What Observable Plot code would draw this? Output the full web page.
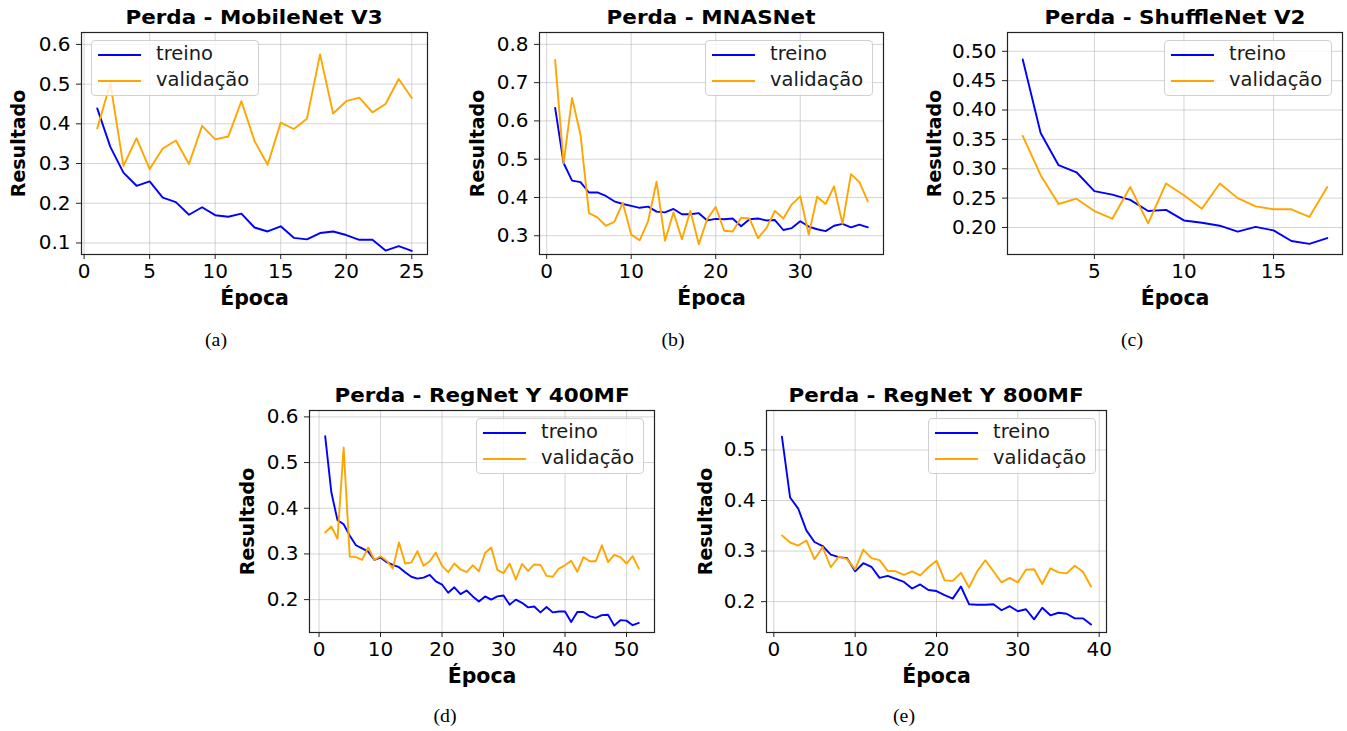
<!DOCTYPE html>
<html>
<head>
<meta charset="utf-8">
<script src="https://cdn.jsdelivr.net/npm/d3@7"></script>
<script src="https://cdn.jsdelivr.net/npm/@observablehq/plot@0.6"></script>
<style>
  html, body { margin: 0; padding: 0; background: #fff; }
  #root { position: relative; width: 1347px; height: 731px; overflow: hidden; font-family: "DejaVu Sans", sans-serif; }
  .panel { position: absolute; }
  .panel svg { overflow: visible; max-width: none !important; }
  .title { position: absolute; font-weight: bold; font-size: 19px; white-space: nowrap; transform: translate(-50%, -50%) scaleX(1.13); color: #000; line-height: 1; }
  .caption { position: absolute; font-family: "Liberation Serif", serif; font-size: 18px; transform: translate(-50%, -50%) scaleX(1.1); color: #000; line-height: 1; }
  .legend { position: absolute; width: 168px; height: 56px; box-sizing: border-box; border: 1px solid #d0d0d0; border-radius: 4px; background: rgba(255,255,255,0.8); }
  .legend .sw { position: absolute; left: 6px; width: 43px; height: 0; border-top: 2px solid; }
  .legend .lt { position: absolute; left: 64px; font-size: 19.5px; line-height: 1; transform: translateY(-55%); white-space: nowrap; color: #1a1a1a; }
</style>
</head>
<body>
<div id="root"></div>
<script>
// ---------- data ----------
const seriesNames = ["treino", "validação"];
const seriesColors = ["#0000ff", "#ffa500"];

const mobilenetTitle = "Perda - MobileNet V3";
const mobilenetTreino = [0.439,0.342,0.277,0.244,0.255,0.214,0.203,0.171,0.190,0.170,0.166,0.174,0.139,0.129,0.142,0.113,0.109,0.125,0.129,0.120,0.108,0.108,0.081,0.092,0.080];
const mobilenetValidacao = [0.388,0.502,0.294,0.364,0.286,0.338,0.358,0.299,0.395,0.361,0.368,0.457,0.357,0.297,0.403,0.387,0.413,0.575,0.426,0.457,0.466,0.429,0.450,0.513,0.465];
const mobilenetXTicks = [0,5,10,15,20,25];
const mobilenetYTicks = [0.1,0.2,0.3,0.4,0.5,0.6];

const mnasTitle = "Perda - MNASNet";
const mnasTreino = [0.634,0.490,0.444,0.440,0.413,0.413,0.404,0.390,0.383,0.378,0.373,0.376,0.363,0.361,0.370,0.356,0.356,0.359,0.340,0.344,0.343,0.345,0.325,0.343,0.345,0.340,0.341,0.315,0.320,0.338,0.324,0.317,0.312,0.326,0.331,0.322,0.329,0.322];
const mnasValidacao = [0.759,0.489,0.660,0.564,0.359,0.348,0.326,0.336,0.386,0.303,0.288,0.338,0.441,0.287,0.361,0.291,0.365,0.278,0.344,0.375,0.313,0.311,0.347,0.345,0.294,0.320,0.365,0.345,0.382,0.403,0.303,0.402,0.383,0.429,0.331,0.461,0.440,0.390];
const mnasXTicks = [0,10,20,30];
const mnasYTicks = [0.3,0.4,0.5,0.6,0.7,0.8];

const shuffleTitle = "Perda - ShuffleNet V2";
const shuffleTreino = [0.486,0.361,0.306,0.294,0.262,0.256,0.247,0.228,0.230,0.212,0.208,0.203,0.193,0.201,0.195,0.177,0.172,0.182];
const shuffleValidacao = [0.356,0.289,0.240,0.249,0.228,0.215,0.269,0.207,0.275,0.255,0.232,0.275,0.250,0.236,0.231,0.231,0.218,0.269];
const shuffleXTicks = [5,10,15];
const shuffleYTicks = [0.20,0.25,0.30,0.35,0.40,0.45,0.50];

const regnet400Title = "Perda - RegNet Y 400MF";
const regnet400Treino = [0.558,0.435,0.374,0.365,0.340,0.319,0.312,0.305,0.287,0.292,0.282,0.276,0.271,0.260,0.250,0.246,0.248,0.254,0.240,0.233,0.215,0.227,0.212,0.220,0.207,0.196,0.207,0.200,0.207,0.209,0.189,0.200,0.193,0.183,0.185,0.172,0.184,0.172,0.174,0.174,0.151,0.173,0.173,0.164,0.160,0.166,0.167,0.143,0.155,0.154,0.144,0.149];
const regnet400Validacao = [0.347,0.360,0.333,0.533,0.294,0.293,0.287,0.314,0.287,0.295,0.285,0.268,0.325,0.279,0.281,0.306,0.274,0.284,0.303,0.274,0.260,0.279,0.266,0.260,0.275,0.262,0.302,0.314,0.265,0.258,0.279,0.244,0.278,0.263,0.277,0.276,0.252,0.250,0.268,0.275,0.285,0.261,0.293,0.284,0.284,0.319,0.282,0.298,0.293,0.279,0.295,0.268];
const regnet400XTicks = [0,10,20,30,40,50];
const regnet400YTicks = [0.2,0.3,0.4,0.5,0.6];

const regnet800Title = "Perda - RegNet Y 800MF";
const regnet800Treino = [0.526,0.406,0.384,0.341,0.318,0.310,0.293,0.288,0.286,0.260,0.276,0.269,0.247,0.251,0.245,0.239,0.226,0.234,0.223,0.221,0.213,0.206,0.230,0.195,0.194,0.194,0.195,0.183,0.191,0.181,0.185,0.165,0.188,0.173,0.178,0.176,0.167,0.167,0.155];
const regnet800Validacao = [0.331,0.317,0.311,0.321,0.284,0.308,0.268,0.289,0.284,0.264,0.303,0.286,0.282,0.261,0.260,0.253,0.260,0.252,0.268,0.281,0.242,0.241,0.257,0.228,0.260,0.282,0.260,0.238,0.247,0.238,0.263,0.264,0.235,0.266,0.258,0.256,0.271,0.259,0.230];
const regnet800XTicks = [0,10,20,30,40];
const regnet800YTicks = [0.2,0.3,0.4,0.5];

const captions = ["(a)", "(b)", "(c)", "(d)", "(e)"];
const xLabel = "Época";
const yLabel = "Resultado";

// ---------- layout ----------
const panels = [
  {title: mobilenetTitle, treino: mobilenetTreino, valid: mobilenetValidacao, xt: mobilenetXTicks, yt: mobilenetYTicks, yfmt: ".1f",
   frame: {l: 81, r: 427, t: 32, b: 254}, xd: [-0.2, 26.2], yd: [0.071, 0.630], legend: "left", ylab: 63, cap: [215.5, 339.5]},
  {title: mnasTitle, treino: mnasTreino, valid: mnasValidacao, xt: mnasXTicks, yt: mnasYTicks, yfmt: ".1f",
   frame: {l: 539, r: 883, t: 32, b: 254}, xd: [-0.85, 39.85], yd: [0.251, 0.831], legend: "right", ylab: 62, cap: [672.5, 339.5]},
  {title: shuffleTitle, treino: shuffleTreino, valid: shuffleValidacao, xt: shuffleXTicks, yt: shuffleYTicks, yfmt: ".2f",
   frame: {l: 1007, r: 1342, t: 32, b: 254}, xd: [0.15, 18.85], yd: [0.154, 0.532], legend: "right", ylab: 73, cap: [1132, 339.5]},
  {title: regnet400Title, treino: regnet400Treino, valid: regnet400Validacao, xt: regnet400XTicks, yt: regnet400YTicks, yfmt: ".1f",
   frame: {l: 309, r: 654, t: 410, b: 632}, xd: [-1.55, 54.55], yd: [0.128, 0.614], legend: "right", ylab: 62, cap: [445, 716]},
  {title: regnet800Title, treino: regnet800Treino, valid: regnet800Validacao, xt: regnet800XTicks, yt: regnet800YTicks, yfmt: ".1f",
   frame: {l: 766, r: 1106, t: 410, b: 632}, xd: [-0.9, 40.9], yd: [0.139, 0.578], legend: "right", ylab: 61, cap: [903.5, 716]}
];

const root = document.getElementById("root");
const ML = 100, MR = 20, MT = 40, MB = 70;

panels.forEach((p, k) => {
  const rows = [];
  p.treino.forEach((v, i) => rows.push({epoca: i + 1, valor: v, serie: seriesNames[0]}));
  p.valid.forEach((v, i) => rows.push({epoca: i + 1, valor: v, serie: seriesNames[1]}));
  const fw = p.frame.r - p.frame.l, fh = p.frame.b - p.frame.t;
  const chart = Plot.plot({
    width: fw + ML + MR,
    height: fh + MT + MB,
    marginLeft: ML, marginRight: MR, marginTop: MT, marginBottom: MB,
    x: {domain: p.xd},
    y: {domain: p.yd},
    color: {domain: seriesNames, range: seriesColors},
    style: {fontFamily: "DejaVu Sans", fontSize: "20px", color: "#000", background: "transparent", overflow: "visible"},
    marks: [
      Plot.gridX(p.xt, {stroke: "#b0b0b0", strokeOpacity: 0.55, strokeWidth: 1}),
      Plot.gridY(p.yt, {stroke: "#b0b0b0", strokeOpacity: 0.55, strokeWidth: 1}),
      Plot.line(rows, {x: "epoca", y: "valor", z: "serie", stroke: "serie", strokeWidth: 1.9}),
      Plot.frame({stroke: "#222", strokeWidth: 1.2}),
      Plot.axisX(p.xt, {tickSize: 5, tickPadding: 4, label: null, fontSize: 20, stroke: "#222"}),
      Plot.axisY(p.yt, {tickSize: 5, tickPadding: 6, label: null, fontSize: 20, tickFormat: d3.format(p.yfmt), stroke: "#222"}),
      Plot.text([xLabel], {frameAnchor: "bottom", textAnchor: "middle", lineAnchor: "middle", dy: 44, fontWeight: "bold", fontSize: 20.5}),
      Plot.text([yLabel], {frameAnchor: "left", textAnchor: "middle", lineAnchor: "middle", rotate: -90, dx: -p.ylab, fontWeight: "bold", fontSize: 19})
    ]
  });
  const wrap = document.createElement("div");
  wrap.className = "panel";
  wrap.style.left = (p.frame.l - ML) + "px";
  wrap.style.top = (p.frame.t - MT) + "px";
  wrap.style.width = (fw + ML + MR) + "px";
  wrap.appendChild(chart);
  root.appendChild(wrap);

  const t = document.createElement("div");
  t.className = "title";
  t.textContent = p.title;
  t.style.left = ((p.frame.l + p.frame.r) / 2) + "px";
  t.style.top = (p.frame.t - 15) + "px";
  root.appendChild(t);

  const lg = document.createElement("div");
  lg.className = "legend";
  lg.style.top = (p.frame.t + 8) + "px";
  if (p.legend === "left") lg.style.left = (p.frame.l + 10) + "px";
  else lg.style.left = (p.frame.r - 10 - 168) + "px";
  seriesNames.forEach((name, i) => {
    const sw = document.createElement("div");
    sw.className = "sw";
    sw.style.borderTopColor = seriesColors[i];
    sw.style.top = (13 + 26 * i) + "px";
    lg.appendChild(sw);
    const lt = document.createElement("div");
    lt.className = "lt";
    lt.textContent = name;
    lt.style.top = (14 + 26 * i) + "px";
    lg.appendChild(lt);
  });
  root.appendChild(lg);

  const c = document.createElement("div");
  c.className = "caption";
  c.textContent = captions[k];
  c.style.left = p.cap[0] + "px";
  c.style.top = p.cap[1] + "px";
  root.appendChild(c);
});
</script>
</body>
</html>
